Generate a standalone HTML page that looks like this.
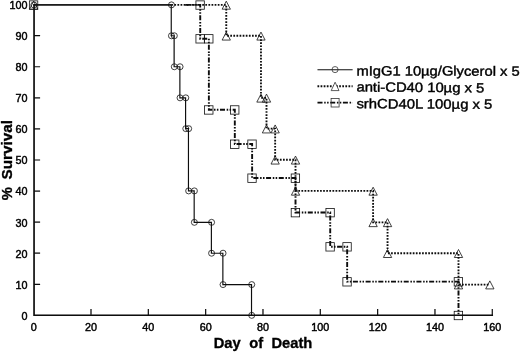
<!DOCTYPE html>
<html lang="en"><head><meta charset="utf-8"><title>Survival</title>
<style>html,body{margin:0;padding:0;background:#fff}svg{display:block}</style></head>
<body>
<svg width="520" height="352" viewBox="0 0 520 352">
<defs><filter id="soft" x="0" y="0" width="520" height="352" filterUnits="userSpaceOnUse"><feGaussianBlur stdDeviation="0.35"/></filter></defs>
<rect width="520" height="352" fill="#fff"/>
<g filter="url(#soft)">
<g stroke="#0a0a0a" fill="none">
<path d="M34.05,4.0 V315.25 H493.05" stroke-width="1.7" stroke-linejoin="miter"/>
<path d="M34,284.28 H40.1 M34,253.2 H40.1 M34,222.13 H40.1 M34,191.05 H40.1 M34,159.98 H40.1 M34,128.9 H40.1 M34,97.83 H40.1 M34,66.75 H40.1 M34,35.68 H40.1 M91.0,315.2 V308.9 M148.33,315.2 V308.9 M205.65,315.2 V308.9 M262.98,315.2 V308.9 M320.31,315.2 V308.9 M377.64,315.2 V308.9 M434.97,315.2 V308.9 M492.29,315.2 V308.9" stroke-width="1.2"/>
</g>
<g font-family="'Liberation Sans', Arial, Helvetica, sans-serif" font-size="10.8" fill="#000" stroke="#000" stroke-width="0.45">
<text x="27.6" y="319.75" text-anchor="end">0</text>
<text x="27.6" y="288.68" text-anchor="end">10</text>
<text x="27.6" y="257.6" text-anchor="end">20</text>
<text x="27.6" y="226.53" text-anchor="end">30</text>
<text x="27.6" y="195.45" text-anchor="end">40</text>
<text x="27.6" y="164.38" text-anchor="end">50</text>
<text x="27.6" y="133.3" text-anchor="end">60</text>
<text x="27.6" y="102.23" text-anchor="end">70</text>
<text x="27.6" y="71.15" text-anchor="end">80</text>
<text x="27.6" y="40.08" text-anchor="end">90</text>
<text x="27.6" y="9.0" text-anchor="end">100</text>
<text x="33.67" y="331.1" text-anchor="middle">0</text>
<text x="91.0" y="331.1" text-anchor="middle">20</text>
<text x="148.33" y="331.1" text-anchor="middle">40</text>
<text x="205.65" y="331.1" text-anchor="middle">60</text>
<text x="262.98" y="331.1" text-anchor="middle">80</text>
<text x="320.31" y="331.1" text-anchor="middle">100</text>
<text x="377.64" y="331.1" text-anchor="middle">120</text>
<text x="434.97" y="331.1" text-anchor="middle">140</text>
<text x="492.29" y="331.1" text-anchor="middle">160</text>
</g>
<g font-family="'Liberation Sans', Arial, Helvetica, sans-serif" font-weight="bold" font-size="14.7" fill="#000" stroke="#000" stroke-width="0.35">
<text y="348.3"><tspan x="213.7">Day</tspan> <tspan x="249.2">of</tspan> <tspan x="271.5">Death</tspan></text>
<text font-size="15" transform="translate(11.9,200.2) rotate(-90) scale(0.98,1)">%</text>
<text font-size="14.7" transform="translate(11.7,179.5) rotate(-90) scale(1.04,1)">Survival</text>
</g>
<g fill="none" stroke="#0a0a0a">
<path d="M33.67,4.9 L171.26,4.9 L171.26,35.78 L174.12,35.78 L174.12,66.75 L179.86,66.75 L179.86,97.83 L185.59,97.83 L185.59,128.65 L188.46,128.65 L188.46,190.9 L194.19,190.9 L194.19,222.33 L211.39,222.33 L211.39,253.2 L222.85,253.2 L222.85,284.58 L251.52,284.58 L251.52,315.35" stroke-width="1.15"/>
<path d="M33.67,4.9 H171.26" stroke-width="1.35"/>
<g transform="translate(0,0)">
<path d="M171.26,4.9 L226.27,4.9 L226.27,35.78 L260.97,35.78 L260.97,97.83 L266.5,97.83 L266.5,128.65 L275.15,128.65 L275.15,159.78 L295.51,159.78 L295.51,190.9 L373.11,190.9 L373.11,222.33 L387.54,222.33 L387.54,253.2 L458.5,253.2 L458.5,284.58 L489.83,284.58" stroke-width="1.85" stroke-dasharray="1.7 1.4"/>
<path d="M185.2,4.9 L200.22,4.9 L200.22,38.68 L208.87,38.68 L208.87,109.81 L234.82,109.81 L234.82,144.04 L252.12,144.04 L252.12,178.02 L295.51,178.02 L295.51,212.5 L330.21,212.5 L330.21,246.69 L347.16,246.69 L347.16,281.67 L458.5,281.67 L458.5,315.35" stroke-width="1.9" stroke-dasharray="5.0 1.7 1.5 1.4 1.5 1.6"/>
</g>
<path d="M317.5,69.7 H352.6" stroke-width="1.1"/>
<path d="M317.5,86.2 H352.6" stroke-width="1.85" stroke-dasharray="1.7 1.4"/>
<path d="M317.5,102.6 H352.6" stroke-width="1.9" stroke-dasharray="5.0 1.7 1.5 1.4 1.5 1.6"/>
</g>
<g fill="none" stroke="#111" stroke-width="0.8">
<circle cx="33.87" cy="4.9" r="3.0"/>
<circle cx="171.46" cy="4.9" r="3.0"/>
<circle cx="171.46" cy="35.78" r="3.0"/>
<circle cx="174.32" cy="35.78" r="3.0"/>
<circle cx="174.32" cy="66.75" r="3.0"/>
<circle cx="180.06" cy="66.75" r="3.0"/>
<circle cx="180.06" cy="97.83" r="3.0"/>
<circle cx="185.79" cy="97.83" r="3.0"/>
<circle cx="185.79" cy="128.65" r="3.0"/>
<circle cx="188.66" cy="128.65" r="3.0"/>
<circle cx="188.66" cy="190.9" r="3.0"/>
<circle cx="194.39" cy="190.9" r="3.0"/>
<circle cx="194.39" cy="222.33" r="3.0"/>
<circle cx="211.59" cy="222.33" r="3.0"/>
<circle cx="211.59" cy="253.2" r="3.0"/>
<circle cx="223.05" cy="253.2" r="3.0"/>
<circle cx="223.05" cy="284.58" r="3.0"/>
<circle cx="251.72" cy="284.58" r="3.0"/>
<circle cx="251.72" cy="315.35" r="3.0"/>
<g transform="translate(0,0)">
<path d="M33.67,1.2 L37.82,9.2 L29.52,9.2 Z"/>
<path d="M226.27,1.2 L230.42,9.2 L222.12,9.2 Z"/>
<path d="M226.27,32.08 L230.42,40.08 L222.12,40.08 Z"/>
<path d="M260.97,32.08 L265.12,40.08 L256.82,40.08 Z"/>
<path d="M260.97,94.13 L265.12,102.13 L256.82,102.13 Z"/>
<path d="M266.5,94.13 L270.65,102.13 L262.35,102.13 Z"/>
<path d="M266.5,124.95 L270.65,132.95 L262.35,132.95 Z"/>
<path d="M275.15,124.95 L279.3,132.95 L271.0,132.95 Z"/>
<path d="M275.15,156.08 L279.3,164.08 L271.0,164.08 Z"/>
<path d="M295.51,156.08 L299.66,164.08 L291.36,164.08 Z"/>
<path d="M295.51,187.2 L299.66,195.2 L291.36,195.2 Z"/>
<path d="M373.11,187.2 L377.26,195.2 L368.96,195.2 Z"/>
<path d="M373.11,218.63 L377.26,226.63 L368.96,226.63 Z"/>
<path d="M387.54,218.63 L391.69,226.63 L383.39,226.63 Z"/>
<path d="M387.54,249.5 L391.69,257.5 L383.39,257.5 Z"/>
<path d="M458.5,249.5 L462.65,257.5 L454.35,257.5 Z"/>
<path d="M458.5,280.88 L462.65,288.88 L454.35,288.88 Z"/>
<path d="M489.83,280.88 L493.98,288.88 L485.68,288.88 Z"/>
<rect x="29.37" y="0.85" width="8.4" height="8.4"/>
<rect x="195.92" y="0.85" width="8.4" height="8.4"/>
<rect x="195.92" y="34.63" width="8.4" height="8.4"/>
<rect x="204.57" y="34.63" width="8.4" height="8.4"/>
<rect x="204.57" y="105.76" width="8.4" height="8.4"/>
<rect x="230.52" y="105.76" width="8.4" height="8.4"/>
<rect x="230.52" y="139.99" width="8.4" height="8.4"/>
<rect x="247.82" y="139.99" width="8.4" height="8.4"/>
<rect x="247.82" y="173.97" width="8.4" height="8.4"/>
<rect x="291.21" y="173.97" width="8.4" height="8.4"/>
<rect x="291.21" y="208.45" width="8.4" height="8.4"/>
<rect x="325.91" y="208.45" width="8.4" height="8.4"/>
<rect x="325.91" y="242.64" width="8.4" height="8.4"/>
<rect x="342.86" y="242.64" width="8.4" height="8.4"/>
<rect x="342.86" y="277.62" width="8.4" height="8.4"/>
<rect x="454.2" y="277.62" width="8.4" height="8.4"/>
<rect x="454.2" y="311.3" width="8.4" height="8.4"/>
</g>
<g stroke="#333" stroke-width="0.8">
<circle cx="335.05" cy="69.6" r="3.05"/>
<path d="M335.1,82.2 L339,90.6 L331.2,90.6 Z" fill="#fff"/>
<rect x="331.1" y="98.5" width="8" height="8.5"/>
</g>
</g>
<g font-family="'Liberation Sans', Arial, Helvetica, sans-serif" font-size="13.5" fill="#000" stroke="#000" stroke-width="0.4">
<text transform="translate(356.4,75.45) rotate(0.1) scale(1.0925,1)">mIgG1 10µg/Glycerol x 5</text>
<text transform="translate(356.4,91.5) rotate(0.45) scale(1.098,1)">anti-CD40 10µg x 5</text>
<text transform="translate(356.4,108.25) rotate(0.25) scale(1.1,1)">srhCD40L 100µg x 5</text>
</g>
</g>
</svg>
</body></html>
